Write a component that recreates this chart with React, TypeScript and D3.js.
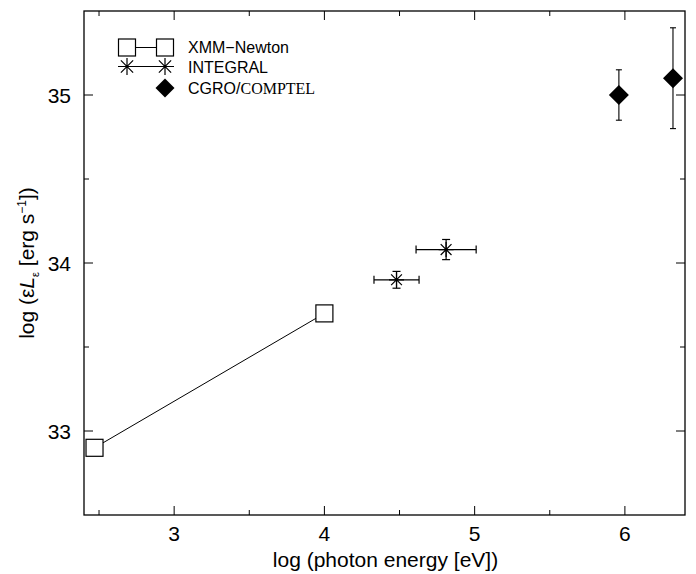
import * as d3 from 'd3';

// log photon energy [eV] and log luminosity [erg/s] per instrument
const xmmEnergy = [2.47, 4.0];
const xmmLum = [32.9, 33.7];

const integralEnergy = [4.48, 4.81];
const integralLum = [33.9, 34.08];
const integralEnergyErr = [0.15, 0.2];
const integralLumErr = [0.05, 0.06];

const comptelEnergy = [5.96, 6.32];
const comptelLum = [35.0, 35.1];
const comptelLumErr = [0.15, 0.3];

const xMajor = [3, 4, 5, 6];
const xMinor = [2.5, 3.5, 4.5, 5.5];
const yMajor = [33, 34, 35];
const yMinor = [33.5, 34.5];

const W = 696;
const H = 574;
const left = 84;
const right = 685;
const top = 11;
const bottom = 515;

const sans = '"Liberation Sans", Arial, Helvetica, sans-serif';
const serif = '"Liberation Serif", "Times New Roman", serif';

const x = d3.scaleLinear().domain([2.4, 6.4]).range([left, right]);
const y = d3.scaleLinear().domain([32.5, 35.5]).range([bottom, top]);

// marker helpers (size in px)
const square = (cx: number, cy: number, key: string) => (
  <rect key={key} x={cx - 8.5} y={cy - 8.5} width={17} height={17} fill="#fff" stroke="#000" strokeWidth={1.2} />
);

const star = (cx: number, cy: number, key: string, r = 8) => (
  <path
    key={key}
    d={`M${cx - r},${cy}L${cx + r},${cy}M${cx},${cy - r}L${cx},${cy + r}` +
      `M${cx - r * 0.72},${cy - r * 0.72}L${cx + r * 0.72},${cy + r * 0.72}` +
      `M${cx - r * 0.72},${cy + r * 0.72}L${cx + r * 0.72},${cy - r * 0.72}`}
    stroke="#000"
    strokeWidth={1.2}
    fill="none"
  />
);

const diamond = (cx: number, cy: number, key: string, r = 10) => (
  <path key={key} d={`M${cx},${cy - r}L${cx + r},${cy}L${cx},${cy + r}L${cx - r},${cy}Z`} fill="#000" />
);

export default function App() {
  const line = d3.line<number>()
    .x((_, i) => x(xmmEnergy[i]))
    .y(d => y(d));

  const cap = 4;

  return (
    <svg width={W} height={H} style={{ position: 'absolute', left: 0, top: 0, background: '#fff' }}>
      <rect x={0} y={0} width={W} height={H} fill="#fff" />

      {/* ticks on all four sides, pointing inward */}
      <g stroke="#000" strokeWidth={1}>
        {xMajor.map(v => (
          <g key={'xm' + v}>
            <line x1={x(v)} x2={x(v)} y1={bottom} y2={bottom - 9} />
            <line x1={x(v)} x2={x(v)} y1={top} y2={top + 9} />
          </g>
        ))}
        {xMinor.map(v => (
          <g key={'xn' + v}>
            <line x1={x(v)} x2={x(v)} y1={bottom} y2={bottom - 5} />
            <line x1={x(v)} x2={x(v)} y1={top} y2={top + 5} />
          </g>
        ))}
        {yMajor.map(v => (
          <g key={'ym' + v}>
            <line x1={left} x2={left + 9} y1={y(v)} y2={y(v)} />
            <line x1={right} x2={right - 9} y1={y(v)} y2={y(v)} />
          </g>
        ))}
        {yMinor.map(v => (
          <g key={'yn' + v}>
            <line x1={left} x2={left + 5} y1={y(v)} y2={y(v)} />
            <line x1={right} x2={right - 5} y1={y(v)} y2={y(v)} />
          </g>
        ))}
      </g>

      <rect x={left} y={top} width={right - left} height={bottom - top} fill="none" stroke="#000" strokeWidth={1.3} />

      {/* tick labels */}
      <g fontFamily={sans} fontSize={21} fill="#000">
        {xMajor.map(v => (
          <text key={'xl' + v} x={x(v)} y={541} textAnchor="middle">{v}</text>
        ))}
        {yMajor.map(v => (
          <text key={'yl' + v} x={71} y={y(v) + 8} textAnchor="end">{v}</text>
        ))}
        <text x={(left + right) / 2 + 1} y={567} textAnchor="middle">log (photon energy [eV])</text>
        <text transform={`translate(34,${(top + bottom) / 2}) rotate(-90)`} textAnchor="middle">
          log (ε<tspan fontStyle="italic">L</tspan>
          <tspan fontSize={11} dy={5}>ε</tspan>
          <tspan dy={-5}> [erg s</tspan>
          <tspan fontSize={12} dy={-8}>−1</tspan>
          <tspan dy={8}>])</tspan>
        </text>
      </g>

      {/* XMM-Newton */}
      <path d={line(xmmLum) || ''} fill="none" stroke="#000" strokeWidth={1} />
      {xmmEnergy.map((e, i) => square(x(e), y(xmmLum[i]), 'xmm' + i))}

      {/* INTEGRAL with error bars */}
      {integralEnergy.map((e, i) => {
        const cx = x(e);
        const cy = y(integralLum[i]);
        const x0 = x(e - integralEnergyErr[i]);
        const x1 = x(e + integralEnergyErr[i]);
        const y0 = y(integralLum[i] - integralLumErr[i]);
        const y1 = y(integralLum[i] + integralLumErr[i]);
        return (
          <g key={'int' + i} stroke="#000" strokeWidth={1.2}>
            <line x1={x0} x2={x1} y1={cy} y2={cy} />
            <line x1={x0} x2={x0} y1={cy - cap} y2={cy + cap} />
            <line x1={x1} x2={x1} y1={cy - cap} y2={cy + cap} />
            <line x1={cx} x2={cx} y1={y0} y2={y1} />
            <line x1={cx - cap} x2={cx + cap} y1={y0} y2={y0} />
            <line x1={cx - cap} x2={cx + cap} y1={y1} y2={y1} />
            {star(cx, cy, 's' + i, 7.5)}
          </g>
        );
      })}

      {/* CGRO/COMPTEL with error bars */}
      {comptelEnergy.map((e, i) => {
        const cx = x(e);
        const cy = y(comptelLum[i]);
        const y0 = y(comptelLum[i] - comptelLumErr[i]);
        const y1 = y(comptelLum[i] + comptelLumErr[i]);
        return (
          <g key={'cg' + i}>
            <g stroke="#000" strokeWidth={1.1}>
              <line x1={cx} x2={cx} y1={y0} y2={y1} />
              <line x1={cx - 3} x2={cx + 3} y1={y0} y2={y0} />
              <line x1={cx - 3} x2={cx + 3} y1={y1} y2={y1} />
            </g>
            {diamond(cx, cy, 'd' + i, 10)}
          </g>
        );
      })}

      {/* legend */}
      <g>
        <line x1={127} x2={165} y1={47.5} y2={47.5} stroke="#000" strokeWidth={1} />
        {square(127, 47.5, 'lg1')}
        {square(165, 47.5, 'lg2')}
        <line x1={118} x2={174} y1={66.5} y2={66.5} stroke="#000" strokeWidth={1} />
        {star(127, 66.5, 'lg3', 8.5)}
        {star(165, 66.5, 'lg4', 8.5)}
        {diamond(165, 88, 'lg5', 9.5)}
        <g fontFamily={sans} fontSize={16} fill="#000">
          <text x={188} y={53}>XMM−Newton</text>
          <text x={188} y={73}>INTEGRAL</text>
          <text x={188} y={94}>CGRO/<tspan fontFamily={serif}>COMPTEL</tspan></text>
        </g>
      </g>
    </svg>
  );
}
